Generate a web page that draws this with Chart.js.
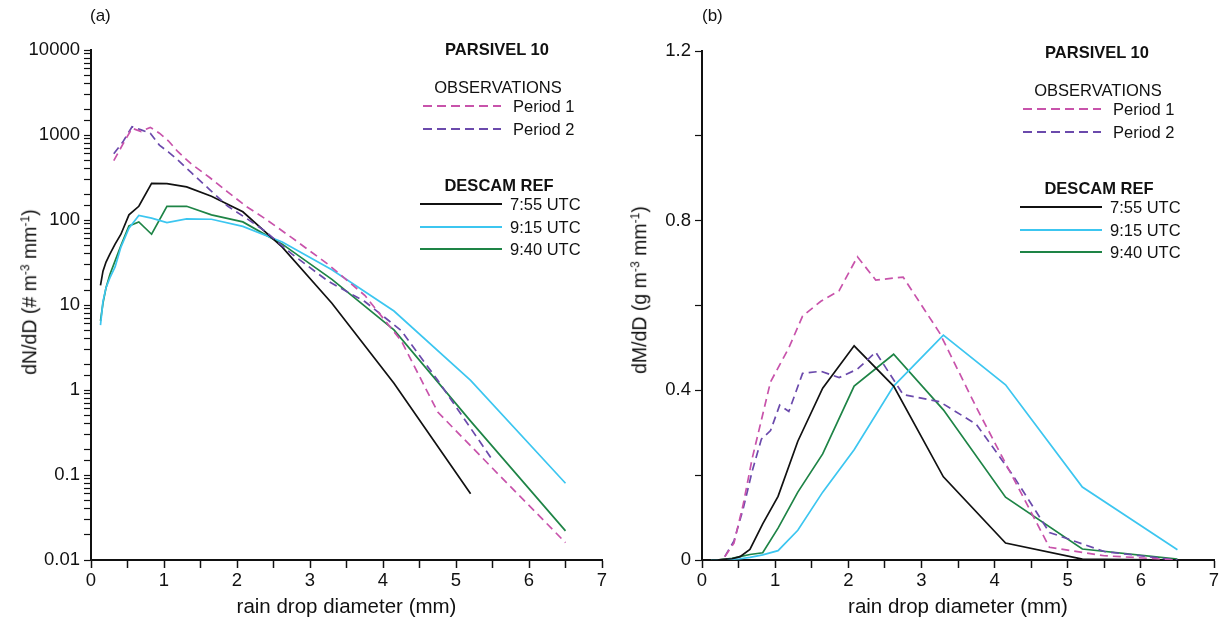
<!DOCTYPE html>
<html>
<head>
<meta charset="utf-8">
<script src="https://cdn.jsdelivr.net/npm/chart.js@4.4.0/dist/chart.umd.min.js"></script>
<style>
  body { margin: 0; background: #fff; font-family: "Liberation Sans", Arial, sans-serif; }
  #wrap { position: relative; width: 1223px; height: 623px; overflow: hidden; }
  canvas { position: absolute; top: 0; }
  #cN { left: 0; }
  #cM { left: 612px; }
  .txt { position: absolute; white-space: nowrap; line-height: 1; color: #111; font-size: 16.5px; }
  .hd { font-weight: bold; }
  .pl { position: absolute; font-size: 17px; line-height: 1; color: #111; }
  .yt { position: absolute; white-space: nowrap; line-height: 1; color: #111; font-size: 19.5px;
        transform: translate(-50%, -50%) rotate(-90deg); }
  .yt sup { font-size: 0.62em; vertical-align: 0.55em; line-height: 0; }
  svg { position: absolute; overflow: visible; }
</style>
</head>
<body>
<div id="wrap">
  <canvas id="cN" width="612" height="623"></canvas>
  <canvas id="cM" width="611" height="623"></canvas>
  <div class="pl" style="left:90px; top:7px;">(a)</div>
  <div class="pl" style="left:702px; top:7px;">(b)</div>
  <div class="yt" style="left:30px; top:292px;">dN/dD (# m<sup>-3</sup> mm<sup>-1</sup>)</div>
  <div class="yt" style="left:640px; top:290px;">dM/dD (g m<sup>-3</sup> mm<sup>-1</sup>)</div>
</div>
<script>
// observation bins (Parsivel), mm
const obsD = [0.312, 0.437, 0.562, 0.687, 0.812, 0.937, 1.062, 1.187, 1.375, 1.625,
              1.875, 2.125, 2.375, 2.75, 3.25, 3.75, 4.25, 4.75, 5.5, 6.5];
// model bins (DESCAM), mm
const descD = [0.13, 0.164, 0.206, 0.26, 0.33, 0.41, 0.52, 0.655, 0.83, 1.04,
               1.31, 1.65, 2.08, 2.62, 3.3, 4.15, 5.2, 6.5];

// (a) dN/dD
const nPeriod1 = [500, 780, 1200, 1100, 1230, 1050, 850, 640, 455, 316,
                  213, 145, 105, 62, 30, 13, 3.8, 0.55, 0.12, 0.016];
const nPeriod2 = [600, 830, 1250, 1150, 1050, 760, 630, 510, 360, 228,
                  145, 105, 75, 40, 19, 11, 5, 1.3, 0.15];
const n755 = [17, 25, 32, 40, 52, 68, 115, 145, 270, 268, 245, 190, 125, 48, 10.5, 1.2, 0.06];
const n915 = [5.8, 11, 16, 21, 28, 48, 80, 113, 105, 93, 103, 102, 84, 55, 26, 8.5, 1.3, 0.08];
const n940 = [6.5, 10.5, 16, 23, 33, 50, 85, 95, 68, 145, 145, 115, 95, 52, 20, 5.1, 0.43, 0.022];

// (b) dM/dD
const mPeriod1 = [0.008, 0.04, 0.13, 0.24, 0.33, 0.42, 0.46, 0.5, 0.575, 0.61,
                  0.635, 0.715, 0.66, 0.667, 0.535, 0.36, 0.195, 0.03, 0.01, 0.0];
const mPeriod2 = [0.008, 0.045, 0.12, 0.21, 0.285, 0.305, 0.365, 0.35, 0.44, 0.445,
                  0.43, 0.45, 0.49, 0.39, 0.373, 0.32, 0.2, 0.065, 0.02, 0.0];
const m755 = [0, 0, 0, 0.001, 0.002, 0.003, 0.008, 0.025, 0.085, 0.15,
              0.28, 0.405, 0.505, 0.41, 0.196, 0.04, 0.002, 0.0];
const m915 = [0, 0, 0, 0, 0.001, 0.002, 0.003, 0.006, 0.012, 0.022,
              0.07, 0.16, 0.26, 0.41, 0.53, 0.413, 0.172, 0.024];
const m940 = [0, 0, 0, 0.001, 0.002, 0.004, 0.008, 0.013, 0.017, 0.075,
              0.16, 0.25, 0.41, 0.485, 0.354, 0.148, 0.026, 0.002];

const xTicks = [0, 1, 2, 3, 4, 5, 6, 7];
const nTickLabels = [0.01, 0.1, 1, 10, 100, 1000, 10000];
const mTickLabels = [0, 0.4, 0.8, 1.2];

const PINK = '#c853ab', PURPLE = '#6b4aac', BLACK = '#111', CYAN = '#3cc6f0', GREEN = '#1e8446';
const FONT = '"Liberation Sans", Arial, sans-serif';

function pts(xs, ys) { return ys.map((y, i) => ({ x: xs[i], y: y })); }

function ds(label, xs, ys, color, dashed) {
  return {
    label: label, data: pts(xs, ys), borderColor: color, borderWidth: 1.7,
    borderDash: dashed ? [8, 5] : [], pointRadius: 0, tension: 0, fill: false
  };
}

function xScale() {
  return {
    type: 'linear', min: 0, max: 7,
    afterFit: s => { s.height = 63; },
    afterBuildTicks: s => { s.ticks = [...Array(15).keys()].map(i => ({ value: i / 2 })); },
    ticks: {
      color: '#111', font: { family: FONT, size: 18.5 }, padding: 2, maxRotation: 0, autoSkip: false,
      callback: v => xTicks.includes(v) ? String(v) : ''
    },
    grid: { drawOnChartArea: false, tickLength: 8, color: '#111', tickWidth: 1.5 },
    border: { color: '#111', width: 2 },
    title: { display: true, text: 'rain drop diameter (mm)', color: '#111',
             font: { family: FONT, size: 20.5 }, padding: { top: 0, bottom: 3 } }
  };
}

function yGrid() {
  return { drawOnChartArea: false, tickLength: 7, color: '#111', tickWidth: 1.2 };
}

const common = {
  responsive: false, animation: false,
  plugins: { legend: { display: false }, tooltip: { enabled: false } }
};

new Chart(document.getElementById('cN'), {
  type: 'line',
  data: { datasets: [
    ds('Period 1', obsD, nPeriod1, PINK, true),
    ds('Period 2', obsD, nPeriod2, PURPLE, true),
    ds('7:55 UTC', descD, n755, BLACK, false),
    ds('9:15 UTC', descD, n915, CYAN, false),
    ds('9:40 UTC', descD, n940, GREEN, false)
  ] },
  options: Object.assign({}, common, {
    layout: { padding: { top: 50, right: 10, left: 0, bottom: 0 } },
    scales: {
      x: xScale(),
      y: {
        type: 'logarithmic', min: 0.01, max: 10000,
        afterFit: s => { s.width = 91; },
        ticks: {
          color: '#111', font: { family: FONT, size: 18.5 }, padding: 4, autoSkip: false,
          callback: v => {
            const hit = nTickLabels.find(t => Math.abs(t - v) / t < 1e-6);
            return hit !== undefined ? String(hit) : '';
          }
        },
        grid: yGrid(),
        border: { color: '#111', width: 2 }
      }
    }
  })
});

new Chart(document.getElementById('cM'), {
  type: 'line',
  data: { datasets: [
    ds('Period 1', obsD, mPeriod1, PINK, true),
    ds('Period 2', obsD, mPeriod2, PURPLE, true),
    ds('7:55 UTC', descD, m755, BLACK, false),
    ds('9:15 UTC', descD, m915, CYAN, false),
    ds('9:40 UTC', descD, m940, GREEN, false)
  ] },
  options: Object.assign({}, common, {
    layout: { padding: { top: 51, right: 9, left: 0, bottom: 0 } },
    scales: {
      x: xScale(),
      y: {
        type: 'linear', min: 0, max: 1.2,
        afterFit: s => { s.width = 90; },
        ticks: {
          stepSize: 0.2, color: '#111', font: { family: FONT, size: 18.5 }, padding: 4, autoSkip: false,
          callback: v => {
            const r = Math.round(v * 10) / 10;
            return mTickLabels.includes(r) ? String(r) : '';
          }
        },
        grid: yGrid(),
        border: { color: '#111', width: 2 }
      }
    }
  })
});

// legend blocks, one per panel
const legendRows = [
  { kind: 'head', text: 'PARSIVEL 10', cx: 497, cy: 49 },
  { kind: 'sub', text: 'OBSERVATIONS', cx: 498, cy: 87 },
  { kind: 'line', text: 'Period 1', color: PINK, dash: '9 5', cy: 106 },
  { kind: 'line', text: 'Period 2', color: PURPLE, dash: '9 5', cy: 129 },
  { kind: 'head', text: 'DESCAM REF', cx: 499, cy: 185 },
  { kind: 'line', text: '7:55 UTC', color: BLACK, dash: '', cy: 204 },
  { kind: 'line', text: '9:15 UTC', color: CYAN, dash: '', cy: 227 },
  { kind: 'line', text: '9:40 UTC', color: GREEN, dash: '', cy: 249 }
];

function addLegend(dx, dy) {
  const wrap = document.getElementById('wrap');
  legendRows.forEach(r => {
    if (r.kind === 'line') {
      const x0 = r.dash ? 423 : 420;
      const svg = document.createElementNS('http://www.w3.org/2000/svg', 'svg');
      svg.setAttribute('width', 84); svg.setAttribute('height', 4);
      svg.style.left = (x0 + dx) + 'px'; svg.style.top = (r.cy + dy - 2) + 'px';
      svg.innerHTML = '<line x1="0" y1="2" x2="' + (r.dash ? 78 : 82) + '" y2="2" stroke="' + r.color +
        '" stroke-width="1.8"' + (r.dash ? ' stroke-dasharray="' + r.dash + '"' : '') + '/>';
      wrap.appendChild(svg);
      const t = document.createElement('div');
      t.className = 'txt'; t.textContent = r.text;
      t.style.left = ((r.dash ? 513 : 510) + dx) + 'px';
      t.style.top = (r.cy + dy - 8) + 'px';
      wrap.appendChild(t);
    } else {
      const t = document.createElement('div');
      t.className = 'txt' + (r.kind === 'head' ? ' hd' : '');
      t.textContent = r.text;
      t.style.left = (r.cx + dx) + 'px';
      t.style.top = (r.cy + dy - 8) + 'px';
      t.style.transform = 'translateX(-50%)';
      wrap.appendChild(t);
    }
  });
}
addLegend(0, 0);
addLegend(600, 3);
</script>
</body>
</html>
